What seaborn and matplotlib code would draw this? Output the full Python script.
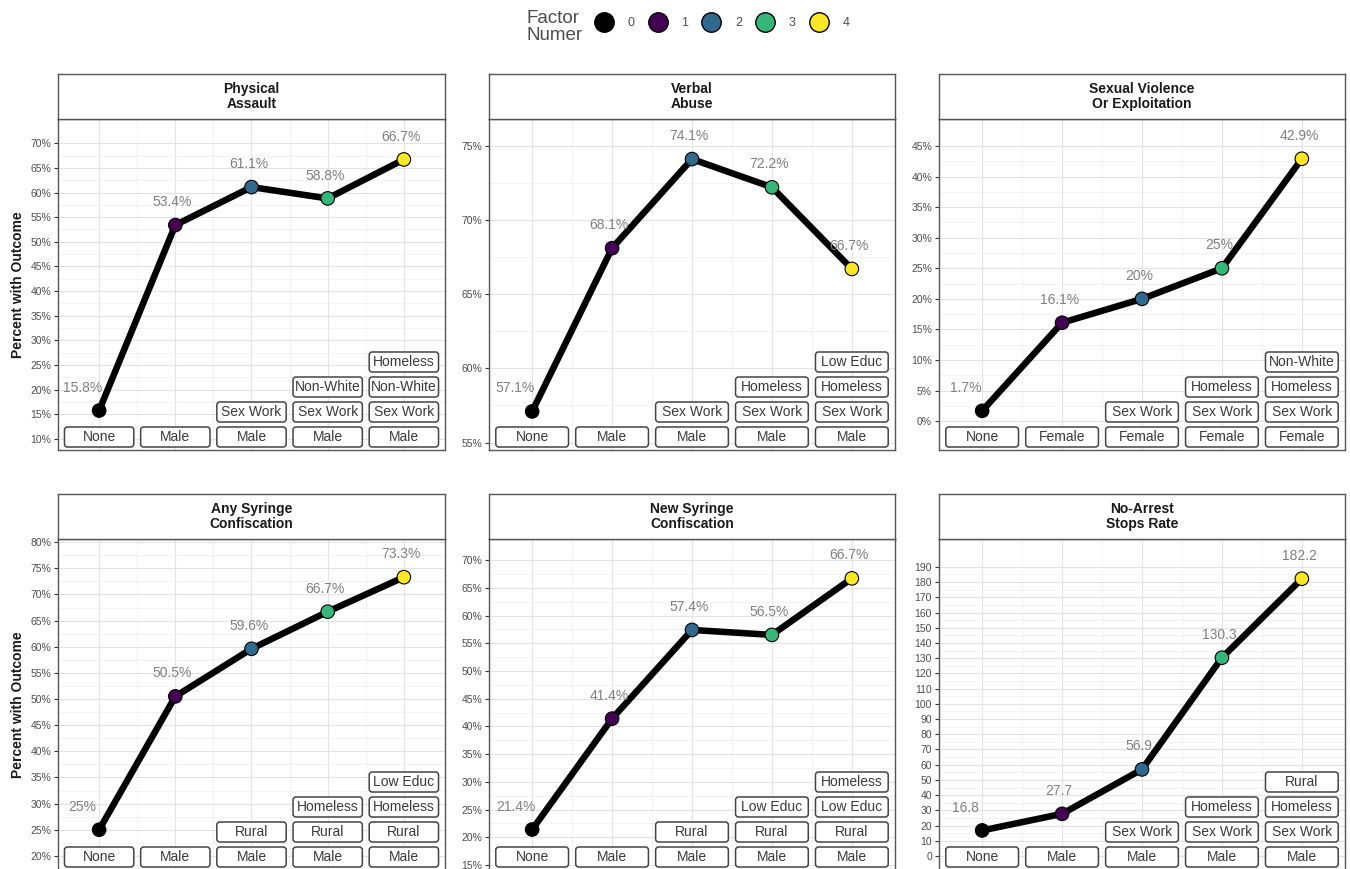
import numpy as np
import pandas as pd
import matplotlib
matplotlib.use("Agg")
import matplotlib.pyplot as plt
import seaborn as sns
from matplotlib.lines import Line2D
from matplotlib.patches import FancyBboxPatch
from matplotlib.transforms import Affine2D

sns.set_theme(style="white")
plt.rcParams['font.family'] = ['Liberation Sans', 'DejaVu Sans']

# ---- data ----
titles = ["Physical\nAssault", "Verbal\nAbuse", "Sexual Violence\nOr Exploitation",
          "Any Syringe\nConfiscation", "New Syringe\nConfiscation", "No-Arrest\nStops Rate"]

physical_assault = [15.8, 53.4, 61.1, 58.8, 66.7]
verbal_abuse = [57.1, 68.1, 74.1, 72.2, 66.7]
sexual_violence = [1.7, 16.1, 20, 25, 42.9]
any_syringe = [25, 50.5, 59.6, 66.7, 73.3]
new_syringe = [21.4, 41.4, 57.4, 56.5, 66.7]
stops_rate = [16.8, 27.7, 56.9, 130.3, 182.2]

# factor added at each step (step 0 shows "None")
pa_factors = ["Male", "Sex Work", "Non-White", "Homeless"]
va_factors = ["Male", "Sex Work", "Homeless", "Low Educ"]
sv_factors = ["Female", "Sex Work", "Homeless", "Non-White"]
as_factors = ["Male", "Rural", "Homeless", "Low Educ"]
ns_factors = ["Male", "Rural", "Low Educ", "Homeless"]
sr_factors = ["Male", "Sex Work", "Homeless", "Rural"]

is_percent = [True, True, True, True, True, False]

y_ticks = [np.arange(10, 71, 5), np.arange(55, 76, 5), np.arange(0, 46, 5),
           np.arange(20, 81, 5), np.arange(15, 71, 5), np.arange(0, 191, 10)]
y_limits = [(7.8, 74.9), (54.5, 76.8), (-4.7, 49.4),
            (17.3, 80.6), (14.1, 73.8), (-9.2, 208.3)]

factor_levels = ["0", "1", "2", "3", "4"]
palette = ["#000000", "#440154", "#31688E", "#35B779", "#FDE725"]

values = [physical_assault, verbal_abuse, sexual_violence, any_syringe, new_syringe, stops_rate]
factors = [pa_factors, va_factors, sv_factors, as_factors, ns_factors, sr_factors]

# ---- layout (pixels) ----
W, H = 1350, 869
cols = [(58, 445), (489, 895), (939, 1345)]
rows = [(119, 450), (539, 870)]
strip_h = 45
XLIM = (0.46, 5.54)

fig = plt.figure(figsize=(W / 100, H / 100), dpi=100)


def fmt(v, pct):
    s = f"{v:.1f}".rstrip("0").rstrip(".")
    return s + "%" if pct else s


for i in range(6):
    r, c = divmod(i, 3)
    l, rr = cols[c]
    t, b = rows[r]
    aw, ah = rr - l, b - t
    ax = fig.add_axes([l / W, 1 - b / H, aw / W, ah / H])

    d = pd.DataFrame({"step": np.arange(1, 6), "value": values[i], "factor": factor_levels})
    sns.lineplot(data=d, x="step", y="value", color="black", linewidth=4.7, ax=ax, zorder=2)
    sns.scatterplot(data=d, x="step", y="value", hue="factor", palette=palette,
                    hue_order=factor_levels, s=95, edgecolor="black", linewidth=0.8,
                    legend=False, ax=ax, zorder=3)

    ax.set_xlim(*XLIM)
    ax.set_ylim(*y_limits[i])
    ax.set_xticks(range(1, 6))
    ax.set_xticks(np.arange(1.5, 5, 1), minor=True)
    yt = y_ticks[i]
    ax.set_yticks(yt)
    ax.set_yticks(yt[:-1] + (yt[1] - yt[0]) / 2, minor=True)
    ax.set_yticklabels([f"{v:g}%" if is_percent[i] else f"{v:g}" for v in yt])
    ax.set_xticklabels([])
    ax.tick_params(axis="x", which="both", length=0)
    ax.tick_params(axis="y", which="major", length=3, width=0.8, color="#333333",
                   labelsize=7.5, labelcolor="#4D4D4D", pad=2, left=True)
    ax.tick_params(axis="y", which="minor", length=0)
    ax.grid(which="major", color="#E3E3E3", linewidth=0.8)
    ax.grid(which="minor", color="#EEEEEE", linewidth=0.5)
    ax.set_axisbelow(True)
    for sp in ax.spines.values():
        sp.set_color("#555555")
        sp.set_linewidth(1)
    ax.set_xlabel("")
    if c == 0:
        ax.set_ylabel("Percent with Outcome", fontsize=10, fontweight="bold", color="#1A1A1A")
    else:
        ax.set_ylabel("")

    # value labels
    for j, v in enumerate(values[i]):
        dx = -12 if j == 0 else -2
        ax.annotate(fmt(v, is_percent[i]), (j + 1, v), xytext=(dx, 16.5),
                    textcoords="offset points", ha="center", va="center",
                    color="#808080", fontsize=10, zorder=5)

    # stacked factor boxes (pixel coords inside axes)
    pix = Affine2D().scale(1 / aw, 1 / ah) + ax.transAxes
    ppu = aw / (XLIM[1] - XLIM[0])
    bw = 0.91 * ppu
    for j in range(5):
        labels = ["None"] if j == 0 else factors[i][:j]
        cx = (j + 1 - XLIM[0]) * ppu
        for k, lab in enumerate(labels):
            cy = 13 + 25 * k
            box = FancyBboxPatch((cx - bw / 2, cy - 10), bw, 20,
                                 boxstyle="round,pad=0,rounding_size=3",
                                 transform=pix, facecolor="white", edgecolor="#444444",
                                 linewidth=1.1, zorder=6, clip_on=False)
            ax.add_patch(box)
            ax.text(cx, cy, lab, transform=pix, ha="center", va="center",
                    fontsize=10, color="#3A3A3A", zorder=7)

    # strip
    sax = fig.add_axes([l / W, 1 - t / H, aw / W, strip_h / H])
    sax.set_xticks([])
    sax.set_yticks([])
    sax.set_facecolor("white")
    for sp in sax.spines.values():
        sp.set_color("#555555")
        sp.set_linewidth(1)
    sax.text(0.5, 0.5, titles[i], ha="center", va="center", fontsize=10,
             fontweight="bold", color="#1A1A1A", linespacing=1.1, transform=sax.transAxes)

# legend
handles = [Line2D([], [], marker="o", linestyle="", markersize=14, markerfacecolor=col,
                  markeredgecolor="black", markeredgewidth=1) for col in palette]
fig.legend(handles, factor_levels, loc="center left", bbox_to_anchor=(598 / W, 1 - 23 / H),
           ncol=5, frameon=False, fontsize=9, labelcolor="#4D4D4D", handlelength=0.9,
           handletextpad=1.45, columnspacing=1.4, borderpad=0, borderaxespad=0)
fig.text(526 / W, 1 - 27 / H, "Factor\nNumer", ha="left", va="center", fontsize=13.5,
         color="#4D4D4D", linespacing=1.05)

fig.savefig("out.png", dpi=100)
